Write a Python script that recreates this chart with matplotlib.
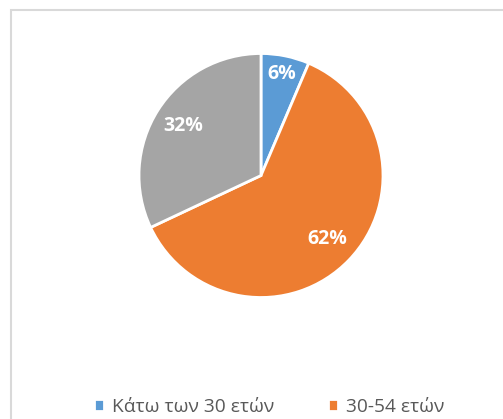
import matplotlib.pyplot as plt
from matplotlib.patches import Rectangle
import numpy as np

# age groups and shares (%)
labels = ["Κάτω των 30 ετών", "30-54 ετών", "55+ ετών"]
shares = [6.4, 61.6, 32]
colors = ["#5B9BD5", "#ED7D31", "#A5A5A5"]

plt.rcParams['font.family'] = ['Open Sans', 'DejaVu Sans']

W, H = 503, 419
fig = plt.figure(figsize=(W / 100, H / 100), dpi=100)

# chart border (cropped at the right and bottom)
fig.patches.append(Rectangle((10.5 / W, -0.1), 1.2, (H - 10.5) / H + 0.1,
                             transform=fig.transFigure, fill=False,
                             edgecolor="#D9D9D9", linewidth=1.5))

# pie axes
cx, cy, r = 261, 175.5, 122
lim = 1.03
size = 2 * r * lim
ax = fig.add_axes([(cx - size / 2) / W, (H - cy - size / 2) / H, size / W, size / H])

wedges, texts, autotexts = ax.pie(
    shares, colors=colors, startangle=90, counterclock=False,
    autopct="%1.0f%%", pctdistance=0.75,
    wedgeprops=dict(edgecolor="white", linewidth=2),
    textprops=dict(color="white", fontsize=14, fontweight="bold"))
ax.set_xlim(-lim, lim)
ax.set_ylim(-lim, lim)
ax.axis("off")

# small slice label sits further out
w = wedges[0]
mid = np.deg2rad((w.theta1 + w.theta2) / 2)
autotexts[0].set_position((0.85 * np.cos(mid), 0.85 * np.sin(mid)))

# legend (third entry falls outside the visible area)
leg = fig.legend(wedges[:2], labels[:2], loc="center left",
                 bbox_to_anchor=(86 / W, (H - 407) / H), ncol=2, frameon=False,
                 fontsize=13.8, handlelength=0.55, handleheight=0.55,
                 handletextpad=0.4, columnspacing=2.8, borderaxespad=0)
for t in leg.get_texts():
    t.set_color("#595959")

fig.savefig("out.png", dpi=100)
